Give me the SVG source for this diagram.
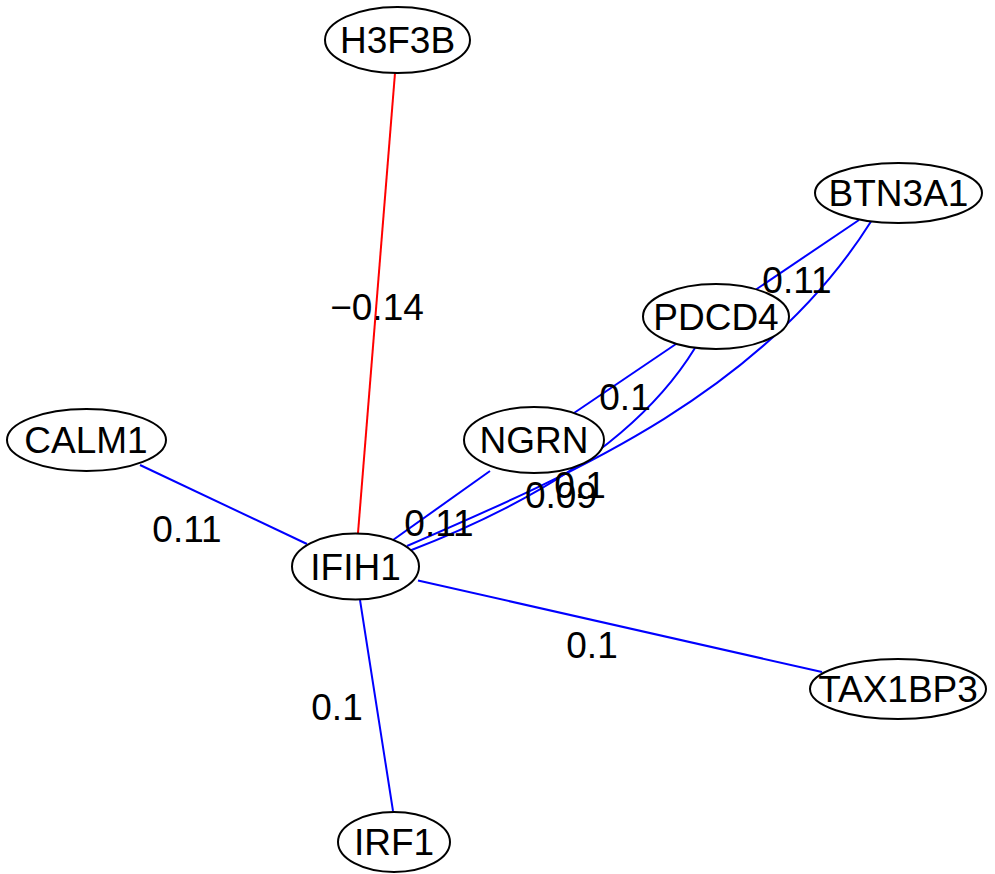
<svg xmlns="http://www.w3.org/2000/svg" width="995" height="874" viewBox="0 0 995 874">
<style>
text{font-family:"Liberation Sans",Arial,sans-serif;font-size:37px;fill:#000;text-anchor:middle}
.n ellipse{fill:#fff;stroke:#000;stroke-width:2}
.e{fill:none;stroke-width:2}
.pos{stroke:#0000ff}
.neg{stroke:#ff0000}
</style>
<rect width="995" height="874" fill="#fff"/>
<g id="edges">
<line class="e neg" x1="395" y1="73" x2="358" y2="533"/>
<line class="e pos" x1="140" y1="465" x2="307" y2="544"/>
<line class="e pos" x1="418" y1="580.5" x2="822" y2="672"/>
<line class="e pos" x1="360" y1="600" x2="393" y2="811"/>
<line class="e pos" x1="393" y1="540" x2="490" y2="471"/>
<line class="e pos" x1="574" y1="413" x2="676" y2="344"/>
<line class="e pos" x1="756" y1="289.5" x2="859" y2="220"/>
<path class="e pos" d="M409,551 Q620,470 695,348"/>
<path class="e pos" d="M407,546 C580,471 765,390 871,221.5"/>
</g>
<g id="edge-labels">
<text x="377" y="320">−0.14</text>
<text x="187" y="542">0.11</text>
<text x="592" y="658">0.1</text>
<text x="337" y="720">0.1</text>
<text x="439" y="536">0.11</text>
<text x="625" y="410">0.1</text>
<text x="580" y="498">0.1</text>
<text x="561" y="508">0.09</text>
<text x="797" y="293">0.11</text>
</g>
<g id="H3F3B" class="n"><ellipse cx="397.5" cy="40" rx="72.5" ry="33"/><text x="397.5" y="53">H3F3B</text></g>
<g id="BTN3A1" class="n"><ellipse cx="898.5" cy="193" rx="83.5" ry="30"/><text x="898.5" y="206">BTN3A1</text></g>
<g id="PDCD4" class="n"><ellipse cx="716" cy="316.5" rx="73" ry="32.5"/><text x="716" y="330">PDCD4</text></g>
<g id="CALM1" class="n"><ellipse cx="86.5" cy="440" rx="79.5" ry="31"/><text x="86" y="453">CALM1</text></g>
<g id="NGRN" class="n"><ellipse cx="534" cy="440" rx="70" ry="33"/><text x="534" y="453">NGRN</text></g>
<g id="IFIH1" class="n"><ellipse cx="355.5" cy="566.5" rx="63.5" ry="33"/><text x="355.5" y="580">IFIH1</text></g>
<g id="TAX1BP3" class="n"><ellipse cx="898" cy="689" rx="88" ry="30"/><text x="898" y="702">TAX1BP3</text></g>
<g id="IRF1" class="n"><ellipse cx="394" cy="842" rx="56" ry="30"/><text x="394" y="855">IRF1</text></g>
</svg>
